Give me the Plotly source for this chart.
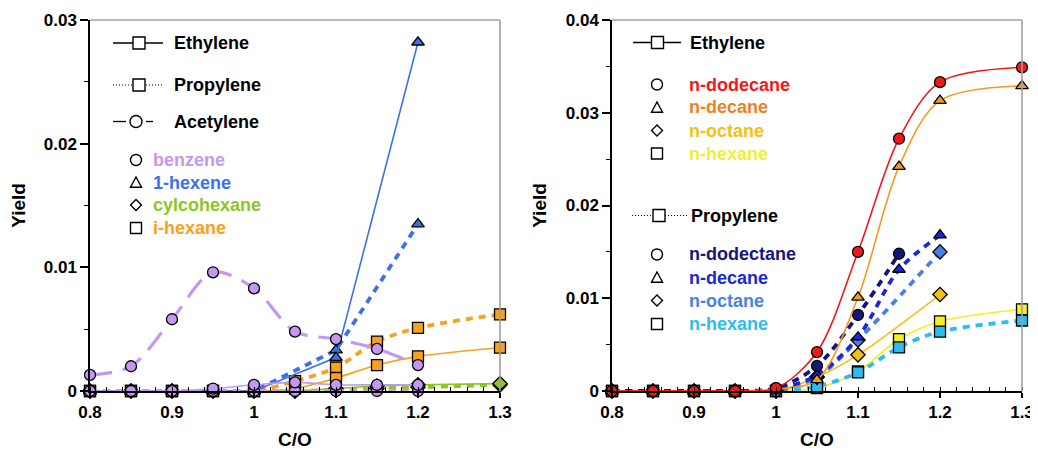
import plotly.graph_objects as go

# the page body adds an 8 px margin, so the figure is sized/offset accordingly
OFF = 8
W, H = 1038 - OFF, 459 - OFF

# ---------------- data ----------------
co = [0.8, 0.85, 0.9, 0.95, 1.0, 1.05, 1.1, 1.15, 1.2, 1.3]

# left panel (C6 fuels)
benzene_ac = [0.0013, 0.0020, 0.0058, 0.0096, 0.0083, 0.0048, 0.0042, 0.0034, 0.0021, None]
benzene_et = [0, 0, 0, 0.0002, 0.0005, 0.0007, 0.0005, 0.0005, 0.0005, None]
benzene_pr = [0, 0, 0, 0, 0, 0, 0, 0, 0, None]
hexene1_et = [0, 0, 0, 0, 0, None, 0.0027, None, 0.0282, None]
hexene1_pr = [0, 0, 0, 0, 0, None, 0.0033, None, 0.0135, None]
ihexane_et = [0, 0, 0, 0, 0, 0.0002, 0.00105, 0.0021, 0.0028, 0.0035]
ihexane_pr = [0, 0, 0, 0, 0, 0.0008, 0.0019, 0.0040, 0.0051, 0.0062]
cyclo_et = [0, 0, 0, 0, 0, 0, 0.0002, 0.0004, 0.0005, 0.0006]
cyclo_pr = [0, 0, 0, 0, 0, 0, 0.0001, 0.0002, 0.0003, 0.0005]

# right panel (n-alkanes)
dodecane_et = [0, 0, 0, 0, 0.0003, 0.0042, 0.0150, 0.0272, 0.0333, 0.0349]
decane_et = [0, 0, 0, 0, 0.0002, 0.0012, 0.0101, 0.0242, 0.0313, 0.0329]
octane_et = [0, 0, 0, 0, 0, 0.0015, 0.0039, None, 0.0104, None]
hexane_et = [0, 0, 0, 0, 0, 0.0003, 0.0021, 0.0056, 0.0075, 0.0088]
dodecane_pr = [0, 0, 0, 0, 0.0003, 0.0027, 0.0082, 0.0148, None, None]
decane_pr = [0, 0, 0, 0, 0.0002, 0.0017, 0.0058, 0.0131, 0.0168, None]
octane_pr = [0, 0, 0, 0, 0, 0.0015, 0.0055, None, 0.0150, None]
hexane_pr = [0, 0, 0, 0, 0, 0.0005, 0.0020, 0.0047, 0.0064, 0.0076]

x_ticks = [0.8, 0.9, 1.0, 1.1, 1.2, 1.3]
x_ticktext = ["0.8", "0.9", "1", "1.1", "1.2", "1.3"]
left_yticks = [0, 0.01, 0.02, 0.03]
right_yticks = [0, 0.01, 0.02, 0.03, 0.04]

# ---------------- styles ----------------
FONT = "Liberation Sans, Arial, sans-serif"
C_BENZ = "#c497f0"
C_HEX1 = "#3d72e6"
C_CYC = "#8cc61e"
C_IHEX = "#f7a11c"
C_RED = "#ee1a1a"
C_ORG = "#f29a22"
C_GOLD = "#f5c010"
C_YEL = "#f4ef1e"
C_NAVY = "#15157a"
C_BLUE = "#1a28d8"
C_ROY = "#4a7fe6"
C_CYAN = "#2cbdee"

SOLID = dict(width=1.6, dash="solid")
PROP = dict(width=3.8, dash="7px,6px")
ACET = dict(width=3.2, dash="22px,11px")

fig = go.Figure()


def add(y, color, symbol, style, shape="spline", xa="x", ya="y"):
    fig.add_trace(go.Scatter(
        x=co, y=y, xaxis=xa, yaxis=ya, mode="lines+markers",
        connectgaps=True, cliponaxis=False, showlegend=False,
        line=dict(color=color, shape=shape, smoothing=0.9, **style),
        marker=dict(symbol=symbol, size=11, color=color,
                    line=dict(color="black", width=1.3)),
    ))


# left panel traces
add(cyclo_pr, C_CYC, "diamond", PROP)
add(cyclo_et, C_CYC, "diamond", SOLID)
add(ihexane_pr, C_IHEX, "square", PROP)
add(ihexane_et, C_IHEX, "square", SOLID)
add(hexene1_pr, C_HEX1, "triangle-up", PROP, shape="linear")
add(hexene1_et, C_HEX1, "triangle-up", SOLID, shape="linear")
add(benzene_ac, C_BENZ, "circle", ACET)
add(benzene_pr, C_BENZ, "circle", PROP)
add(benzene_et, C_BENZ, "circle", SOLID)

# right panel traces
R = dict(xa="x2", ya="y2")
add(hexane_et, C_YEL, "square", SOLID, **R)
add(hexane_pr, C_CYAN, "square", PROP, **R)
add(octane_et, C_GOLD, "diamond", SOLID, **R)
add(octane_pr, C_ROY, "diamond", PROP, **R)
add(decane_pr, C_BLUE, "triangle-up", PROP, **R)
add(dodecane_pr, C_NAVY, "circle", PROP, **R)
add(decane_et, C_ORG, "triangle-up", SOLID, **R)
add(dodecane_et, C_RED, "circle", SOLID, **R)

# ---------------- axes ----------------
TICKFONT = dict(family=FONT, size=17, color="black", weight="bold")
TITLEFONT = dict(family=FONT, size=19, color="black", weight="bold")


def px(x):
    return (x - OFF) / W


def py(y):
    return 1 - (y - OFF) / H


ydom = [py(391), py(20)]
xdomL = [px(90), px(500)]
xdomR = [px(612), px(1022)]


def xaxis(dom, anchor):
    return dict(domain=dom, anchor=anchor, range=[0.8, 1.3], tickvals=x_ticks,
                ticktext=x_ticktext, automargin=False,
                showline=True, linecolor="black", linewidth=1.5,
                ticks="outside", ticklen=5, tickwidth=1.5, tickcolor="black",
                minor=dict(dtick=0.02, tick0=0.8, ticks="inside", ticklen=4,
                           tickwidth=1.2, tickcolor="black"),
                showgrid=False, zeroline=False, tickfont=TICKFONT,
                title=dict(text="C/O", font=TITLEFONT, standoff=12))


def xoverlay(dom, anchor, over):
    return dict(domain=dom, anchor=anchor, overlaying=over, range=[0.8, 1.3],
                tickvals=x_ticks, showticklabels=False, showline=False,
                automargin=False,
                ticks="inside", ticklen=7, tickwidth=1.5, tickcolor="black",
                showgrid=False, zeroline=False)


def yaxis(anchor, rng, vals):
    return dict(domain=ydom, anchor=anchor, range=rng, tickvals=vals,
                ticktext=["0" if v == 0 else f"{v:.2f}" for v in vals],
                automargin=False,
                showline=True, linecolor="black", linewidth=1.5,
                ticks="outside", ticklen=8, tickwidth=1.5, tickcolor="black",
                minor=dict(dtick=0.005, tick0=0, ticks="outside", ticklen=4,
                           tickwidth=1.2, tickcolor="black"),
                showgrid=False, zeroline=False, tickfont=TICKFONT,
                title=dict(text="Yield", font=TITLEFONT, standoff=14))


# ---------------- legend glyphs (shapes) and texts ----------------
shapes = []
annotations = []


def frame(xr, yr):
    shapes.append(dict(type="line", xref=xr + " domain", yref=yr + " domain",
                       x0=0, x1=1, y0=1, y1=1, line=dict(color="#a0a0a0", width=1.6)))
    shapes.append(dict(type="line", xref=xr + " domain", yref=yr + " domain",
                       x0=1, x1=1, y0=0, y1=1, line=dict(color="#a0a0a0", width=1.6)))


def seg(x0, x1, y, dash="solid", width=1.3):
    shapes.append(dict(type="line", xref="paper", yref="paper",
                       x0=px(x0), x1=px(x1), y0=py(y), y1=py(y),
                       line=dict(color="black", width=width, dash=dash)))


def glyph(kind, cx, cy, r=5.5):
    base = dict(xref="paper", yref="paper", xsizemode="pixel", ysizemode="pixel",
                xanchor=px(cx), yanchor=py(cy), fillcolor="white",
                line=dict(color="black", width=1.4))
    if kind == "circle":
        shapes.append(dict(type="circle", x0=-r, x1=r, y0=-r, y1=r, **base))
    elif kind == "square":
        shapes.append(dict(type="rect", x0=-r, x1=r, y0=-r, y1=r, **base))
    elif kind == "triangle":
        shapes.append(dict(type="path",
                           path=f"M {-r},{-r*0.85} L {r},{-r*0.85} L 0,{r} Z", **base))
    elif kind == "diamond":
        shapes.append(dict(type="path",
                           path=f"M 0,{r} L {r},0 L 0,{-r} L {-r},0 Z", **base))


def text(s, x, y, color="black", size=18):
    annotations.append(dict(text=s, x=px(x), y=py(y), xref="paper", yref="paper",
                            xanchor="left", yanchor="middle", showarrow=False,
                            font=dict(family=FONT, size=size, color=color, weight="bold")))


frame("x", "y")
frame("x2", "y2")

# left legend
seg(113, 163, 43)
glyph("square", 139, 43, 6)
text("Ethylene", 172, 43)
seg(113, 163, 85, dash="1px,2px", width=1.2)
glyph("square", 139, 85, 6)
text("Propylene", 172, 85)
seg(113, 126, 121.5)
seg(146, 153, 121.5)
glyph("circle", 136, 121.5, 6)
text("Acetylene", 172, 121.5)
for kind, label, col, yy in [("circle", "benzene", C_BENZ, 160),
                             ("triangle", "1-hexene", C_HEX1, 182.5),
                             ("diamond", "cylcohexane", C_CYC, 205),
                             ("square", "i-hexane", C_IHEX, 228)]:
    glyph(kind, 136, yy)
    text(label, 151, yy, col)

# right legend
seg(633, 681, 42.5)
glyph("square", 657.5, 42.5, 6)
text("Ethylene", 688, 42.5)
for kind, label, col, yy in [("circle", "n-dodecane", C_RED, 84.5),
                             ("triangle", "n-decane", "#f07f1e", 107.5),
                             ("diamond", "n-octane", C_GOLD, 130.5),
                             ("square", "n-hexane", "#eeee3a", 153.5)]:
    glyph(kind, 657, yy)
    text(label, 687, yy, col)
seg(632, 687, 215.5, dash="1px,2px", width=1.2)
glyph("square", 659, 215.5, 6)
text("Propylene", 689, 215.5)
for kind, label, col, yy in [("circle", "n-dodectane", C_NAVY, 254.5),
                             ("triangle", "n-decane", C_BLUE, 277.5),
                             ("diamond", "n-octane", C_ROY, 300.5),
                             ("square", "n-hexane", C_CYAN, 324)]:
    glyph(kind, 657, yy)
    text(label, 687, yy, col)

fig.update_layout(
    width=W, height=H,
    margin=dict(l=0, r=0, t=0, b=0),
    paper_bgcolor="white", plot_bgcolor="white",
    xaxis=xaxis(xdomL, "y"),
    yaxis=yaxis("x", [0, 0.03], left_yticks),
    xaxis2=xaxis(xdomR, "y2"),
    yaxis2=yaxis("x2", [0, 0.04], right_yticks),
    xaxis3=xoverlay(xdomL, "y", "x"),
    xaxis4=xoverlay(xdomR, "y2", "x2"),
    shapes=shapes,
    annotations=annotations,
    showlegend=False,
)

fig.write_html("out.html")
